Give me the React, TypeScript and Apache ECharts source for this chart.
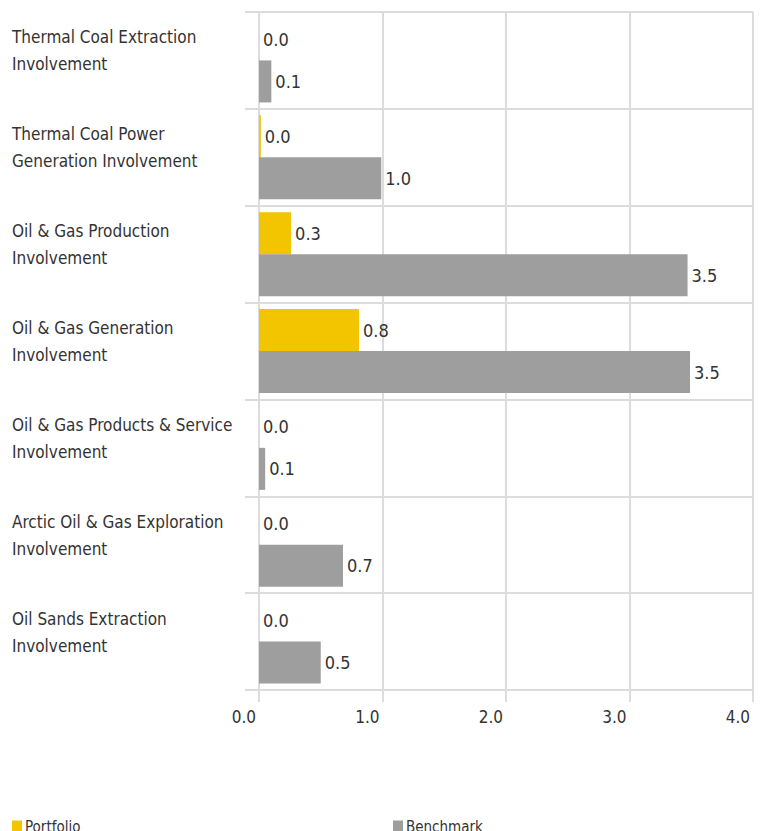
import React, { useEffect, useRef } from "react";
import * as echarts from "echarts";

const categories = [
  "Thermal Coal Extraction\nInvolvement",
  "Thermal Coal Power\nGeneration Involvement",
  "Oil & Gas Production\nInvolvement",
  "Oil & Gas Generation\nInvolvement",
  "Oil & Gas Products & Service\nInvolvement",
  "Arctic Oil & Gas Exploration\nInvolvement",
  "Oil Sands Extraction\nInvolvement",
];
const portfolio = [0, 0.015, 0.26, 0.81, 0, 0, 0];
const benchmark = [0.1, 0.99, 3.47, 3.49, 0.05, 0.68, 0.5];
const xTicks = { min: 0, max: 4, interval: 1 };

const FONT = "'Liberation Sans Narrow', 'DejaVu Sans Condensed', 'Roboto', sans-serif";
const GRID = "#dcdcdc";
const TEXT = "#333333";

const fmt = (v: number) => (Math.round(v * 10) / 10).toFixed(1);

export default function App() {
  const ref = useRef<HTMLDivElement>(null);
  useEffect(() => {
    document.body.style.margin = "0";
    if (!ref.current) return;
    const chart = echarts.init(ref.current, undefined, { renderer: "svg" });
    const label = {
      show: true,
      position: "right" as const,
      distance: 4,
      color: TEXT,
      fontFamily: FONT,
      fontSize: 18,
      formatter: (p: any) => fmt(p.value),
    };
    const legendText = {
      fontFamily: FONT,
      fontSize: 15,
      color: TEXT,
      lineHeight: 12,
      padding: [0, 0, 0, -2],
    };
    chart.setOption({
      animation: false,
      textStyle: { fontFamily: FONT },
      grid: { left: 259, right: 12, top: 12, bottom: 141, containLabel: false },
      legend: [
        {
          data: ["Portfolio"],
          left: 12,
          top: 819,
          padding: 0,
          itemWidth: 10,
          itemHeight: 12,
          icon: "rect",
          textStyle: legendText,
        },
        {
          data: ["Benchmark"],
          left: 393,
          top: 819,
          padding: 0,
          itemWidth: 10,
          itemHeight: 12,
          icon: "rect",
          textStyle: legendText,
        },
      ],
      xAxis: {
        type: "value",
        min: xTicks.min,
        max: xTicks.max,
        interval: xTicks.interval,
        axisLine: { show: true, lineStyle: { color: GRID, width: 2 } },
        axisTick: { show: true, length: 12, lineStyle: { color: GRID, width: 2 } },
        splitLine: { show: true, lineStyle: { color: GRID, width: 2 } },
        axisLabel: {
          formatter: (v: number) => v.toFixed(1),
          align: "right",
          padding: [0, 3, 0, 0],
          margin: 18,
          color: TEXT,
          fontFamily: FONT,
          fontSize: 17,
        },
      },
      yAxis: {
        type: "category",
        data: categories,
        inverse: true,
        axisLine: { show: false },
        axisTick: { show: true, length: 14, lineStyle: { color: GRID, width: 2 } },
        splitLine: { show: true, lineStyle: { color: GRID, width: 2 } },
        axisLabel: {
          align: "left",
          margin: 247,
          color: TEXT,
          fontFamily: FONT,
          fontSize: 17,
          lineHeight: 27,
          formatter: (v: string) =>
            v
              .split("\n")
              .map((l) => `{t|${l}}`)
              .join("\n") + "\n{s| }",
          rich: {
            t: { fontFamily: FONT, fontSize: 17, lineHeight: 27, color: TEXT },
            s: { fontSize: 2, lineHeight: 19 },
          },
        },
      },
      series: [
        {
          name: "Portfolio",
          type: "bar",
          data: portfolio,
          barWidth: 42,
          barGap: "0%",
          itemStyle: { color: "#F2C500" },
          label,
        },
        {
          name: "Benchmark",
          type: "bar",
          data: benchmark,
          barWidth: 42,
          barGap: "0%",
          itemStyle: { color: "#9E9E9E" },
          label,
        },
      ],
    });
    return () => chart.dispose();
  }, []);
  return <div ref={ref} style={{ width: 765, height: 831 }} />;
}
